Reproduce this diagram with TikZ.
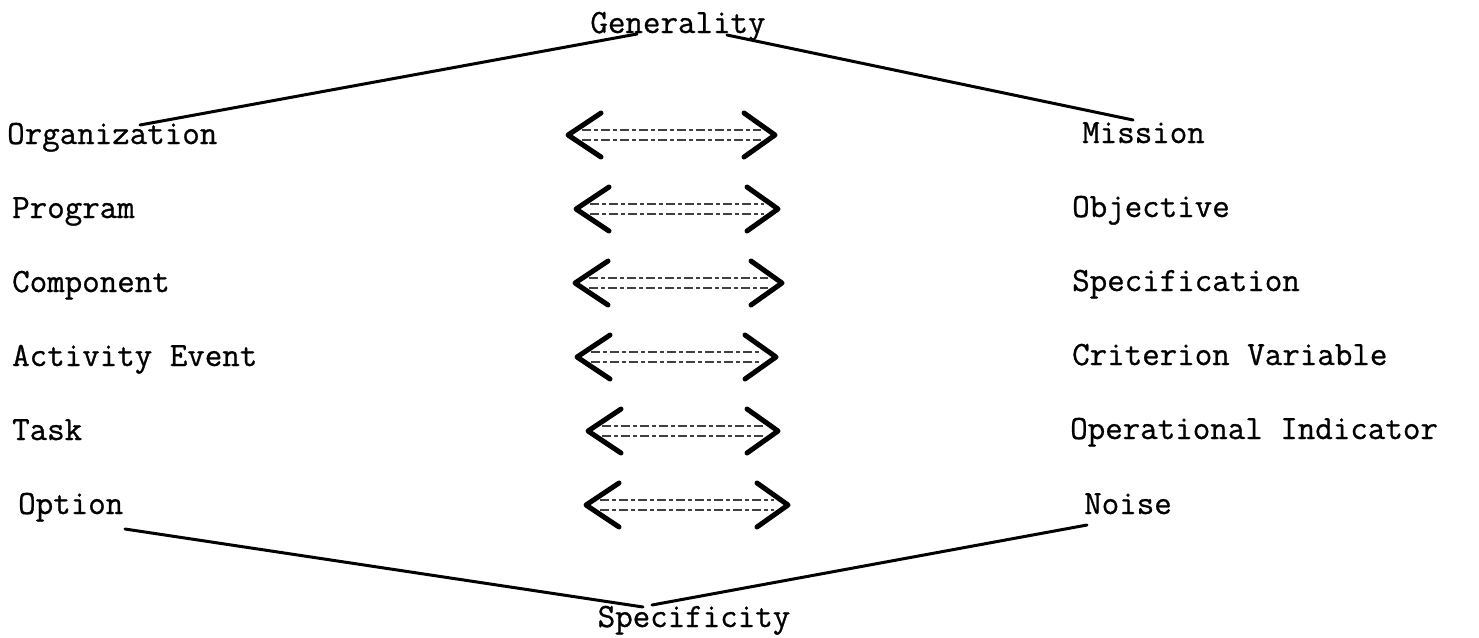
\documentclass[tikz,border=0pt]{standalone}
\usepackage{fontspec}
\newfontfamily\tw{Latin Modern Mono}[FakeBold=0.8]
\usetikzlibrary{calc}

\tikzset{
  label/.style={inner sep=0pt, anchor=base west, font=\tw\fontsize{34}{34}\selectfont},
  title/.style={label, anchor=base},
  slope/.style={line width=3pt, line cap=round},
  arm/.style={line width=5pt, line cap=round, line join=round},
  shaft/.style={line width=1.6pt, black!75, dash pattern=on 9pt off 3pt on 4pt off 3pt},
}

\begin{document}
\begin{tikzpicture}[x=1pt, y=-1pt]
  \useasboundingbox (0,0) rectangle (1479,637);

  % poles
  \node[title] (gen) at (678,33) {Generality};
  \node[title] (spec) at (694,627) {Specificity};

  % left column
  \node[label] (l1) at (7,144)   {Organization};
  \node[label] (l2) at (12,218)  {Program};
  \node[label] (l3) at (12,292)  {Component};
  \node[label] (l4) at (12,366)  {Activity Event};
  \node[label] (l5) at (12,440)  {Task};
  \node[label] (l6) at (18,514)  {Option};

  % right column
  \node[label] (r1) at (1082,143) {Mission};
  \node[label] (r2) at (1072,217) {Objective};
  \node[label] (r3) at (1072,291) {Specification};
  \node[label] (r4) at (1072,365) {Criterion Variable};
  \node[label] (r5) at (1070,439) {Operational Indicator};
  \node[label] (r6) at (1084,514) {Noise};

  % ends of the four slanted lines
  \coordinate (ga) at (140,125);
  \coordinate (gb) at (637,34);
  \coordinate (gc) at (727,35);
  \coordinate (gd) at (1133,120);
  \coordinate (sa) at (125,529);
  \coordinate (sb) at (643,607);
  \coordinate (sc) at (652,605);
  \coordinate (sd) at (1087,525);

  \draw[slope] (ga) -- (gb);
  \draw[slope] (gc) -- (gd);
  \draw[slope] (sa) -- (sb);
  \draw[slope] (sc) -- (sd);

  % double-headed arrows between the columns
  \foreach \n/\y/\a/\b in {1/135/568/775, 2/209/576/778, 3/283/575/782,
                            4/357/577/776, 5/431/588/778, 6/505/586/788} {
    \coordinate (p\n) at (\a,\y);
    \coordinate (q\n) at (\b,\y);
    \draw[shaft] ($(p\n)+(14,-5)$) -- ($(q\n)+(-14,-5)$);
    \draw[shaft] ($(p\n)+(14,5)$) -- ($(q\n)+(-14,5)$);
    \draw[arm] ($(p\n)+(33,-22)$) -- (p\n) -- ($(p\n)+(33,22)$);
    \draw[arm] ($(q\n)+(-31,-22)$) -- (q\n) -- ($(q\n)+(-31,22)$);
  }
\end{tikzpicture}
\end{document}
